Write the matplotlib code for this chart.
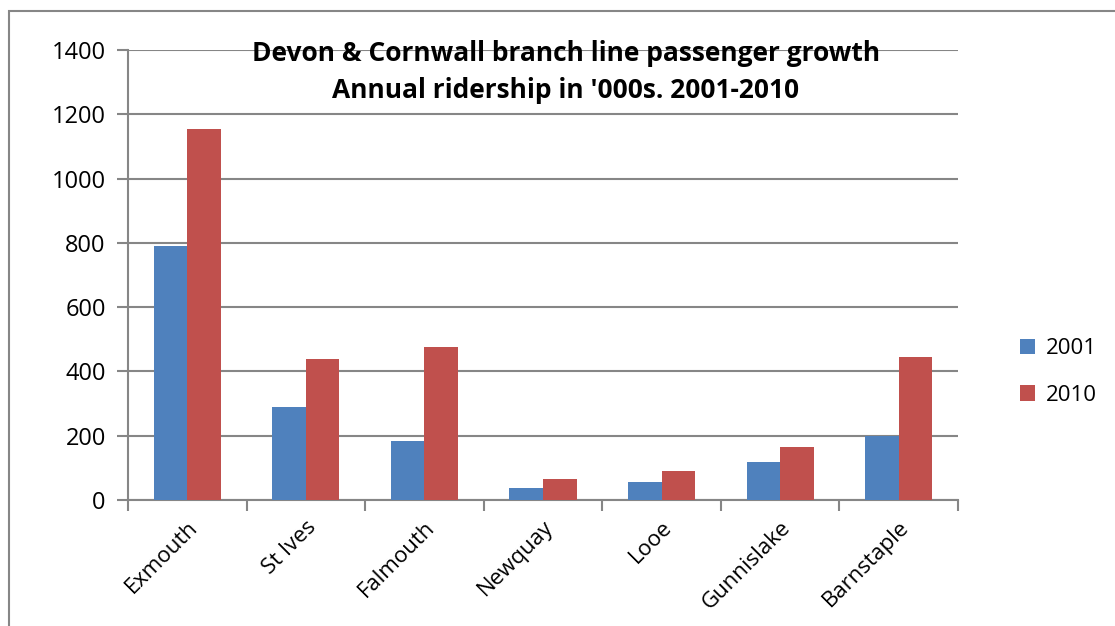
import numpy as np
import matplotlib.pyplot as plt
from matplotlib.patches import Rectangle

plt.rcParams['font.family'] = ['Open Sans', 'DejaVu Sans']

# ridership in thousands
stations = ['Exmouth', 'St Ives', 'Falmouth', 'Newquay', 'Looe', 'Gunnislake', 'Barnstaple']
riders_2001 = [790, 289, 185, 38, 57, 118, 198]
riders_2010 = [1154, 440, 477, 64, 90, 165, 445]

fig = plt.figure(figsize=(11.15, 6.26), dpi=100)
ax = fig.add_axes([128 / 1115, 1 - 500 / 626, 830 / 1115, 450 / 626])

x = np.arange(len(stations))
w = 0.283
ax.bar(x - w / 2, riders_2001, w, color='#4f81bd', label='2001', zorder=3)
ax.bar(x + w / 2, riders_2010, w, color='#c0504d', label='2010', zorder=3)

ax.set_xlim(-0.5, len(stations) - 0.5)
ax.set_ylim(0, 1400)
ax.set_yticks(np.arange(0, 1401, 200))
ax.yaxis.grid(True, color='#868686', linewidth=1.5, zorder=0)

# category boundaries get the tick marks, names sit between them
ax.set_xticks(np.arange(-0.5, len(stations), 1), minor=False)
ax.set_xticklabels([])
ax.set_xticks(x, minor=True)
ax.set_xticklabels(stations, minor=True, rotation=45, ha='right',
                   rotation_mode='anchor', fontsize=16)
ax.tick_params(axis='x', which='minor', length=0, pad=12)
ax.tick_params(axis='x', which='major', length=8, width=1.5, color='#868686')
ax.tick_params(axis='y', length=8, width=1.5, color='#868686', labelsize=17, pad=8)

for s in ['top', 'right']:
    ax.spines[s].set_visible(False)
for s in ['left', 'bottom']:
    ax.spines[s].set_color('#868686')
    ax.spines[s].set_linewidth(1.5)

fig.text(566 / 1115, 1 - 72 / 626,
         "Devon & Cornwall branch line passenger growth\nAnnual ridership in '000s. 2001-2010",
         ha='center', va='center', fontsize=19, fontweight='bold', linespacing=1.5)

ax.legend(loc='center left', bbox_to_anchor=(1.05, 0.284), frameon=False,
          fontsize=16, handlelength=0.7, handleheight=0.7, handletextpad=0.5,
          labelspacing=1.15)

fig.patches.append(Rectangle((8.5 / 1115, -0.1), 1.2, 1 - 11 / 626 + 0.1,
                             transform=fig.transFigure, fill=False,
                             edgecolor='#868686', linewidth=1.5))

fig.savefig('out.png', dpi=100)
